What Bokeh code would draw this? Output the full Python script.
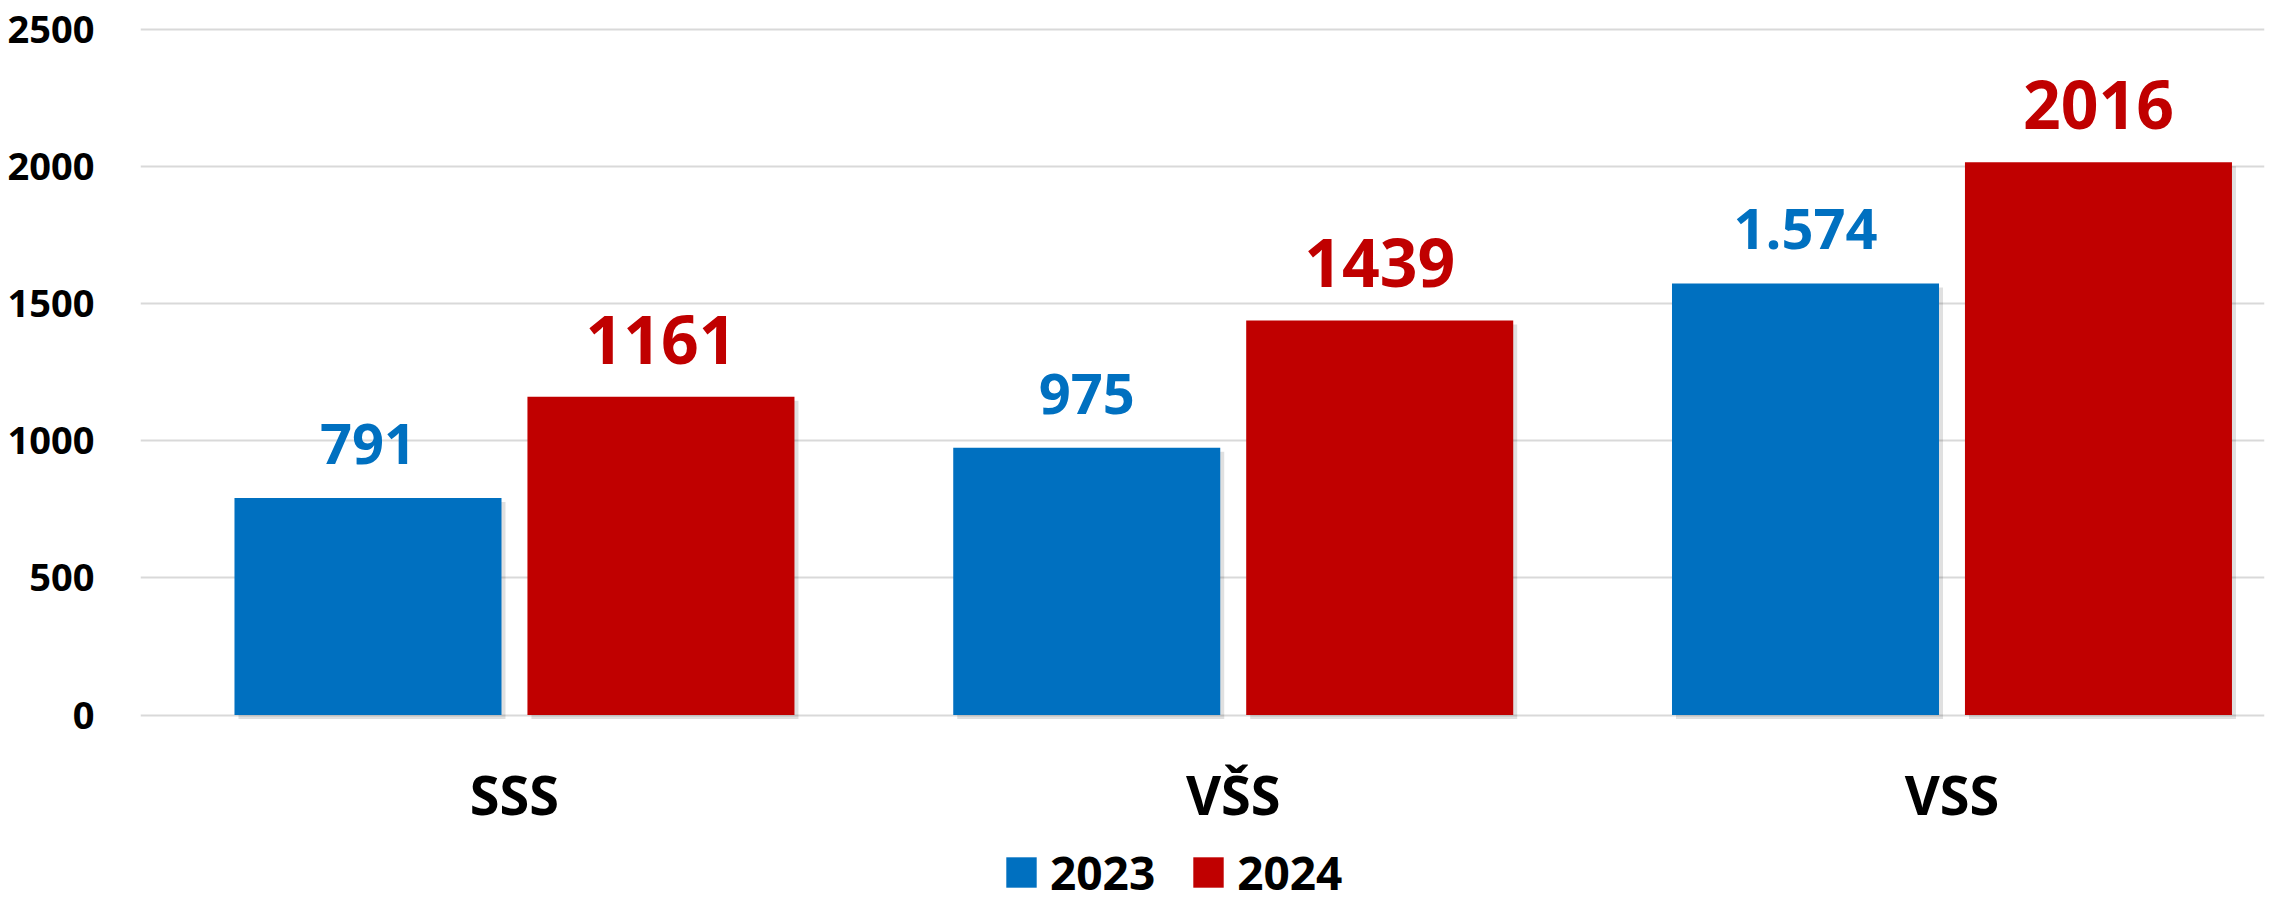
from bokeh.plotting import figure
from bokeh.layouts import column
from bokeh.models import ColumnDataSource, Range1d, FixedTicker, Legend, LegendItem
from bokeh.core.properties import value
from bokeh.embed import file_html
from bokeh.resources import INLINE

# ---- data ----
categories = ["SSS", "VŠS", "VSS"]
years = ["2023", "2024"]
values_2023 = [791, 975, 1574]
values_2024 = [1161, 1439, 2016]
labels_2023 = ["791", "975", "1.574"]
labels_2024 = ["1161", "1439", "2016"]
y_ticks = [0, 500, 1000, 1500, 2000, 2500]

BLUE = "#0070C0"
RED = "#C00000"
FONT = value("Open Sans")

bar_w = 0.3715
offset = 0.2038

centers = [i + 0.5 for i in range(len(categories))]
x23 = [c - offset for c in centers]
x24 = [c + offset for c in centers]

src23 = ColumnDataSource(dict(x=x23, top=values_2023, label=labels_2023))
src24 = ColumnDataSource(dict(x=x24, top=values_2024, label=labels_2024))

W = 2282
H_MAIN = 847
H_LEG = 62

p = figure(width=W, height=H_MAIN, output_backend="svg", toolbar_location=None,
           x_range=Range1d(-0.0203, 2.9348), y_range=Range1d(-34.6, 2605.8))
p.min_border_left = 140
p.min_border_right = 18
p.min_border_top = 0
p.min_border_bottom = H_MAIN - 724
p.outline_line_color = None
p.background_fill_color = "white"
p.border_fill_color = "white"

# shadows (subtle, to the right and below)
sdx = 4 / 718.75
sdy = 4 / 0.2742
for src_x, vals in ((x23, values_2023), (x24, values_2024)):
    p.vbar(x=[v + sdx for v in src_x], top=[v - sdy for v in vals], bottom=-sdy,
           width=bar_w, fill_color="black", fill_alpha=0.12, line_color=None)

r23 = p.vbar(x="x", top="top", width=bar_w, source=src23, fill_color=BLUE, line_color=None)
r24 = p.vbar(x="x", top="top", width=bar_w, source=src24, fill_color=RED, line_color=None)

# data labels
p.text(x="x", y="top", text="label", source=src23, text_align="center",
       text_baseline="alphabetic", y_offset=-54, text_color=BLUE,
       text_font=FONT, text_font_style="bold", text_font_size="56px")
p.text(x="x", y="top", text="label", source=src24, text_align="center",
       text_baseline="alphabetic", y_offset=-57, text_color=RED,
       text_font=FONT, text_font_style="bold", text_font_size="66px")

# axes
p.yaxis.ticker = FixedTicker(ticks=y_ticks)
p.yaxis.axis_line_color = None
p.yaxis.major_tick_line_color = None
p.yaxis.minor_tick_line_color = None
p.yaxis.major_label_text_font = "Open Sans"
p.yaxis.major_label_text_font_style = "bold"
p.yaxis.major_label_text_font_size = "38px"
p.yaxis.major_label_text_color = "black"
p.yaxis.major_label_standoff = 40

p.xaxis.ticker = FixedTicker(ticks=centers)
p.xaxis.major_label_overrides = {c: name for c, name in zip(centers, categories)}
p.xaxis.axis_line_color = None
p.xaxis.major_tick_line_color = None
p.xaxis.minor_tick_line_color = None
p.xaxis.major_label_text_font = "Open Sans"
p.xaxis.major_label_text_font_style = "bold"
p.xaxis.major_label_text_font_size = "54px"
p.xaxis.major_label_text_color = "black"
p.xaxis.major_label_standoff = 26

p.xgrid.grid_line_color = None
p.ygrid.ticker = FixedTicker(ticks=y_ticks)
p.ygrid.grid_line_color = "#D9D9D9"
p.ygrid.grid_line_width = 2

# ---- legend strip (separate figure below the chart; frames are aligned) ----
lf = figure(width=W, height=H_LEG, output_backend="svg", toolbar_location=None,
            x_range=Range1d(0, 1), y_range=Range1d(0, 1),
            x_axis_type=None, y_axis_type=None, min_border=0)
lf.outline_line_color = None
lf.grid.visible = False
# legend-only renderers: zero-height samples, so nothing shows in the strip
lr23 = lf.vbar(x=[0.5], top=[0], width=0.1, fill_color=BLUE, line_color=None)
lr24 = lf.vbar(x=[0.5], top=[0], width=0.1, fill_color=RED, line_color=None)
legend = Legend(items=[LegendItem(label=years[0], renderers=[lr23]),
                       LegendItem(label=years[1], renderers=[lr24])],
                orientation="horizontal", location=(862, 6),
                glyph_width=38, glyph_height=38, label_standoff=10, spacing=34,
                padding=0, margin=0, border_line_color=None, background_fill_alpha=0,
                label_text_font="Open Sans", label_text_font_style="bold",
                label_text_font_size="46px", label_text_color="black",
                label_text_line_height=1.0)
lf.add_layout(legend, "center")

layout = column(p, lf, spacing=0)
open("out.html", "w").write(file_html(layout, INLINE))
